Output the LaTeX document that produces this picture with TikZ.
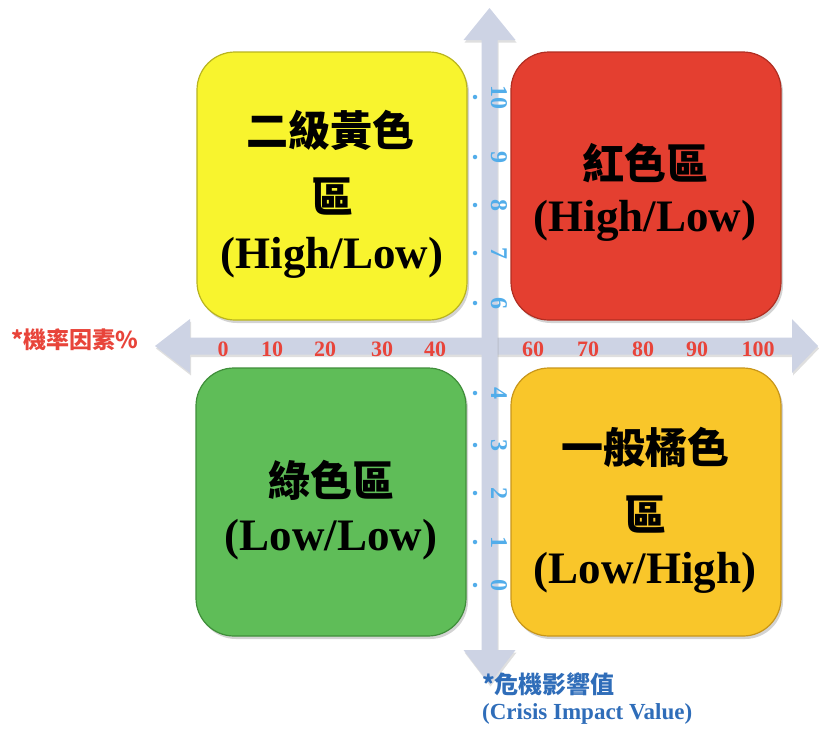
\documentclass[tikz,border=0pt]{standalone}
\usepackage{fontspec}
\setmainfont{Liberation Serif}
\newfontfamily\cjk{Noto Sans CJK TC}
\usetikzlibrary{shadows}
\definecolor{qyellow}{HTML}{F8F42E}
\definecolor{qyellowd}{HTML}{B9B420}
\definecolor{qred}{HTML}{E43F30}
\definecolor{qredd}{HTML}{B02E22}
\definecolor{qgreen}{HTML}{5FBD58}
\definecolor{qgreend}{HTML}{3F8E3A}
\definecolor{qorange}{HTML}{F9C62A}
\definecolor{qoranged}{HTML}{C8961A}
\definecolor{axisc}{HTML}{CDD3E4}
\definecolor{numred}{HTML}{E8443A}
\definecolor{tickblue}{HTML}{52ADEA}
\definecolor{labblue}{HTML}{2F6DB9}
\begin{document}
\begin{tikzpicture}[x=1pt,y=-1pt,
  quad/.style={rectangle, rounded corners=38pt, minimum width=270pt, minimum height=268pt,
    inner sep=0pt, line width=1.2pt,
    drop shadow={shadow xshift=2pt, shadow yshift=-3pt, opacity=0.35}},
  bigcjk/.style={font=\cjk\bfseries\fontsize{42}{46}\selectfont, inner sep=0pt},
  biglat/.style={font=\bfseries\fontsize{45}{48}\selectfont, inner sep=0pt},
  xnum/.style={font=\bfseries\fontsize{22}{24}\selectfont, text=numred, inner sep=0pt},
  ynum/.style={font=\bfseries\fontsize{24}{26}\selectfont, text=tickblue, inner sep=0pt, rotate=-90},
  tickdot/.style={circle, fill=tickblue, inner sep=0pt, minimum size=4.5pt},
  axisshape/.style={fill=axisc, drop shadow={shadow xshift=1pt, shadow yshift=-2.5pt, opacity=0.25}}
]
\useasboundingbox (0,0) rectangle (819,729);

% axes
\coordinate (xl) at (155,346);
\coordinate (xr) at (818,346);
\coordinate (yt) at (489.5,8);
\coordinate (yb) at (489.5,684);
\path[axisshape] (xl) -- (190,319) -- (190,337.5) -- (792,337.5) -- (792,319) -- (xr)
  -- (792,373) -- (792,354.5) -- (190,354.5) -- (190,373) -- cycle;
\path[axisshape] (yt) -- (515.5,40) -- (497.5,40) -- (497.5,650) -- (515.5,650) -- (yb)
  -- (463.5,650) -- (481.5,650) -- (481.5,40) -- (463.5,40) -- cycle;

% quadrants
\node[quad, fill=qyellow, draw=qyellowd] (yellow) at (332,186) {};
\node[quad, fill=qred, draw=qredd] (red) at (646,186) {};
\node[quad, fill=qgreen, draw=qgreend] (green) at (331,502) {};
\node[quad, fill=qorange, draw=qoranged] (orange) at (646,502) {};

\node[bigcjk] (y1) at (330,130) {二級黃色};
\node[bigcjk] (y2) at (332,197) {區};
\node[biglat] (y3) at (332,258) {(High/Low)};

\node[bigcjk] (r1) at (645,163) {紅色區};
\node[biglat] (r2) at (645,221) {(High/Low)};

\node[bigcjk] (g1) at (331,480) {綠色區};
\node[biglat] (g2) at (331,540) {(Low/Low)};

\node[bigcjk] (o1) at (645,447) {一般橘色};
\node[bigcjk] (o2) at (645,515) {區};
\node[biglat] (o3) at (645,573) {(Low/High)};

% horizontal numbers
\node[xnum] (n0) at (223,349) {0};
\node[xnum] (n10) at (272,349) {10};
\node[xnum] (n20) at (325,349) {20};
\node[xnum] (n30) at (382,349) {30};
\node[xnum] (n40) at (435,349) {40};
\node[xnum] (n60) at (533,349) {60};
\node[xnum] (n70) at (588,349) {70};
\node[xnum] (n80) at (643,349) {80};
\node[xnum] (n90) at (697,349) {90};
\node[xnum] (n100) at (758,349) {100};

% vertical numbers and dots
\foreach \v/\yy in {10/97,9/157,8/205,7/253,6/303,4/393,3/445,2/493,1/542,0/585}{
  \node[tickdot] (d\v) at (475,\yy) {};
  \node[ynum] (v\v) at (499,\yy) {\v};
}

% axis labels
\node[font=\cjk\bfseries\fontsize{23}{26}\selectfont, text=numred, inner sep=0pt, anchor=west] (xlab) at (11,340) {*機率因素\%};
\node[font=\cjk\bfseries\fontsize{24}{26}\selectfont, text=labblue, inner sep=0pt, anchor=west] (ylab1) at (482,684) {*危機影響值};
\node[font=\bfseries\fontsize{23}{26}\selectfont, text=labblue, inner sep=0pt, anchor=west] (ylab2) at (482,714) {(Crisis Impact Value)};
\end{tikzpicture}
\end{document}
